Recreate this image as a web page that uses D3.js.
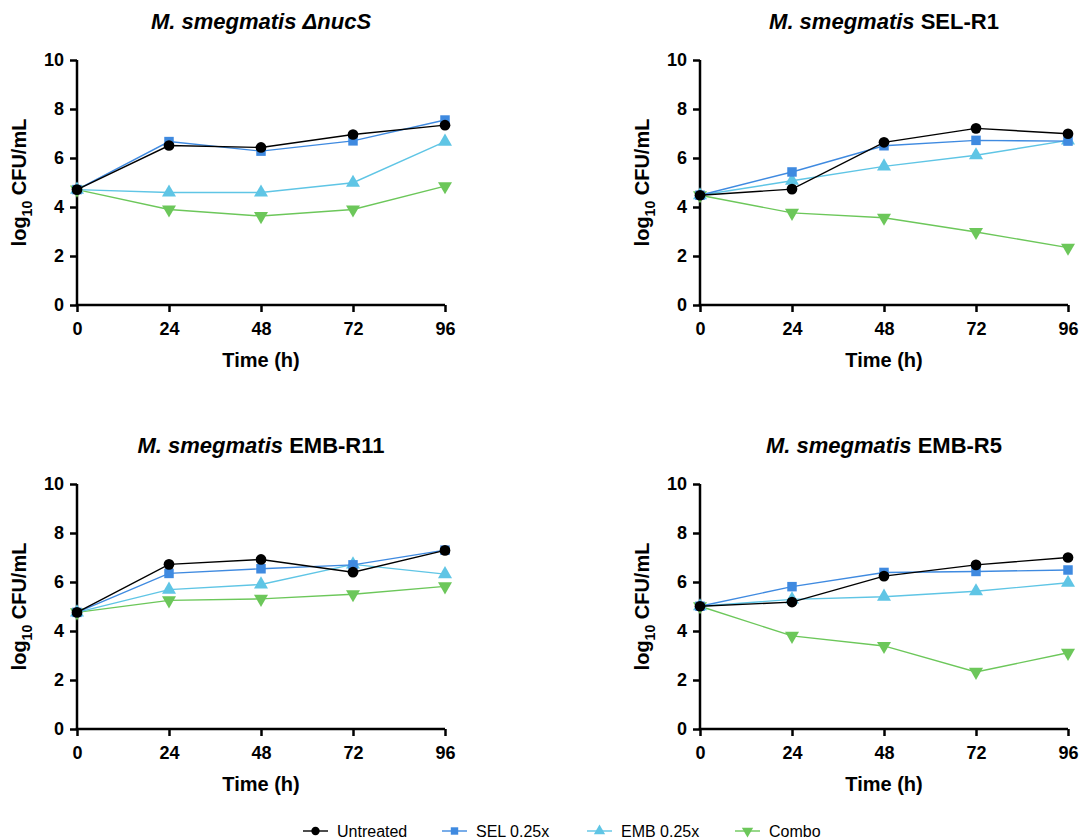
<!DOCTYPE html>
<html>
<head>
<meta charset="utf-8">
<script src="https://cdn.jsdelivr.net/npm/d3@7"></script>
<style>
  body { margin: 0; background: #fff; }
  svg { display: block; }
</style>
</head>
<body>
<svg id="chart" width="1079" height="840"></svg>
<script>
// time points (h)
const hours = [0, 24, 48, 72, 96];
const yTicks = [0, 2, 4, 6, 8, 10];

const seriesNames = ["Untreated", "SEL 0.25x", "EMB 0.25x", "Combo"];
const seriesColors = ["#000000", "#3f8ae0", "#5fc5e5", "#6cc75a"];
const seriesShapes = [d3.symbolCircle, d3.symbolSquare, d3.symbolTriangle, "down"];

// panel titles: italic part + plain part
const titlesItalic = ["M. smegmatis ", "M. smegmatis ", "M. smegmatis ", "M. smegmatis "];
const titlesPlain = ["\u0394nucS", "SEL-R1", "EMB-R11", "EMB-R5"];
const titlePlainItalic = [true, false, false, false];

// log10 CFU/mL, one row per series (Untreated, SEL, EMB, Combo)
const nucS = [
  [4.71, 6.51, 6.43, 6.96, 7.34],
  [4.71, 6.67, 6.28, 6.70, 7.55],
  [4.71, 4.59, 4.59, 4.99, 6.67],
  [4.71, 3.90, 3.63, 3.90, 4.85]
];
const selR1 = [
  [4.48, 4.73, 6.64, 7.21, 6.99],
  [4.48, 5.43, 6.50, 6.72, 6.69],
  [4.48, 5.07, 5.66, 6.11, 6.72],
  [4.48, 3.76, 3.56, 2.98, 2.34]
];
const embR11 = [
  [4.76, 6.72, 6.92, 6.40, 7.29],
  [4.76, 6.35, 6.54, 6.70, 7.30],
  [4.76, 5.69, 5.90, 6.72, 6.32],
  [4.76, 5.25, 5.31, 5.50, 5.82]
];
const embR5 = [
  [5.01, 5.18, 6.24, 6.70, 7.00],
  [5.01, 5.81, 6.39, 6.43, 6.49],
  [5.01, 5.29, 5.40, 5.62, 5.97],
  [5.01, 3.80, 3.39, 2.33, 3.11]
];
const panelData = [nucS, selR1, embR11, embR5];

const svg = d3.select("#chart")
  .attr("font-family", "Liberation Sans, Arial, sans-serif");

// plot areas
const panels = [
  {left: 77, top: 60, width: 368, height: 245, titleY: 29},
  {left: 700, top: 60, width: 368, height: 245, titleY: 29},
  {left: 77, top: 484, width: 368, height: 245, titleY: 453},
  {left: 700, top: 484, width: 368, height: 245, titleY: 453}
];

function symbolPath(shape, size) {
  if (shape === "down") {
    return d3.symbol(d3.symbolTriangle, size)();
  }
  return d3.symbol(shape, size)();
}
const symbolSizes = [90, 90, 85, 85];

function drawPanel(p, i) {
  const data = panelData[i];
  const x = d3.scaleLinear().domain([0, 96]).range([0, p.width]);
  const y = d3.scaleLinear().domain([0, 10]).range([p.height, 0]);

  const g = svg.append("g").attr("transform", `translate(${p.left},${p.top})`);

  // title
  const t = svg.append("text")
    .attr("x", p.left + p.width / 2)
    .attr("y", p.titleY)
    .attr("text-anchor", "middle")
    .attr("font-size", 22)
    .attr("font-weight", "bold");
  t.append("tspan").attr("font-style", "italic").text(titlesItalic[i]);
  t.append("tspan").attr("font-style", titlePlainItalic[i] ? "italic" : "normal").text(titlesPlain[i]);

  // axes
  const xAxis = g.append("g")
    .attr("transform", `translate(0,${p.height})`)
    .call(d3.axisBottom(x).tickValues(hours).tickSize(7).tickPadding(10));
  const yAxis = g.append("g")
    .call(d3.axisLeft(y).tickValues(yTicks).tickSize(7).tickPadding(6));

  [xAxis, yAxis].forEach(a => {
    a.select(".domain").attr("stroke-width", 2.5).attr("stroke", "#000");
    a.selectAll(".tick line").attr("stroke-width", 2.5).attr("stroke", "#000");
    a.selectAll(".tick text")
      .attr("font-size", 18)
      .attr("font-weight", "bold")
      .attr("font-family", "Liberation Sans, Arial, sans-serif")
      .attr("fill", "#000");
  });
  // remove the outer tick caps so the axes meet cleanly
  xAxis.select(".domain").attr("d", `M-1.25,0H${p.width}`);
  yAxis.select(".domain").attr("d", `M0,0V${p.height}`);

  // axis titles
  g.append("text")
    .attr("x", p.width / 2)
    .attr("y", p.height + 62)
    .attr("text-anchor", "middle")
    .attr("font-size", 20)
    .attr("font-weight", "bold")
    .text("Time (h)");

  const yl = g.append("text")
    .attr("transform", `translate(-51,${p.height / 2}) rotate(-90)`)
    .attr("text-anchor", "middle")
    .attr("font-size", 20)
    .attr("font-weight", "bold");
  yl.append("tspan").text("log");
  yl.append("tspan").attr("font-size", 14).attr("dy", 6).text("10");
  yl.append("tspan").attr("dy", -6).text(" CFU/mL");

  const line = d3.line().x((d, j) => x(hours[j])).y(d => y(d));

  // draw Combo first, Untreated last (on top)
  for (let s = seriesNames.length - 1; s >= 0; s--) {
    g.append("path")
      .datum(data[s])
      .attr("d", line)
      .attr("fill", "none")
      .attr("stroke", seriesColors[s])
      .attr("stroke-width", 1.4);
    g.selectAll(null)
      .data(data[s])
      .enter().append("path")
      .attr("d", symbolPath(seriesShapes[s], symbolSizes[s]))
      .attr("transform", (d, j) => {
        const rot = seriesShapes[s] === "down" ? " rotate(180)" : "";
        return `translate(${x(hours[j])},${y(d)})${rot}`;
      })
      .attr("fill", seriesColors[s]);
  }
}

panels.forEach(drawPanel);

// legend
const legendX = [303, 442, 587, 735];
const legend = svg.append("g").attr("transform", "translate(0,831)");
seriesNames.forEach((name, s) => {
  const lg = legend.append("g").attr("transform", `translate(${legendX[s]},0)`);
  lg.append("line")
    .attr("x1", 0).attr("x2", 25)
    .attr("stroke", seriesColors[s]).attr("stroke-width", 1.4);
  lg.append("path")
    .attr("d", symbolPath(seriesShapes[s], 55))
    .attr("transform", `translate(12.5,0)${seriesShapes[s] === "down" ? " rotate(180)" : ""}`)
    .attr("fill", seriesColors[s]);
  lg.append("text")
    .attr("x", 34)
    .attr("y", 6)
    .attr("font-size", 16)
    .text(name);
});
</script>
</body>
</html>
